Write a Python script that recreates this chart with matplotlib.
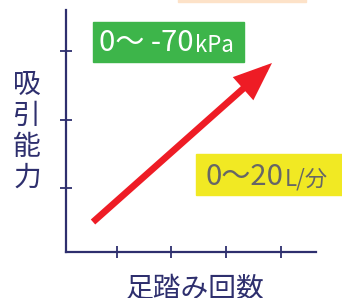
import matplotlib.pyplot as plt
from matplotlib.patches import FancyArrowPatch, Rectangle

plt.rcParams['font.family'] = ['Noto Sans CJK JP', 'DejaVu Sans']

# axis ticks (axis units: pixels of the original drawing)
x_ticks = [51, 105, 160, 215]
y_ticks = [64, 132, 201]
x_max, y_max = 250, 242

# arrow from low to high
arrow_start = (27, 30)
arrow_end = (206, 189)

navy = '#2e2f6e'

fig = plt.figure(figsize=(3.42, 2.98), dpi=100)
ax = fig.add_axes([66 / 342, (298 - 252) / 298, 250 / 342, 242 / 298])
ax.set_zorder(5)
ax.set_xlim(0, x_max)
ax.set_ylim(0, y_max)
ax.patch.set_alpha(0)
for s in ['top', 'right']:
    ax.spines[s].set_visible(False)
for s in ['left', 'bottom']:
    ax.spines[s].set_color(navy)
    ax.spines[s].set_linewidth(1.6)
ax.set_xticks(x_ticks)
ax.set_yticks(y_ticks)
ax.tick_params(direction='inout', length=9, width=1.3, color=navy,
               labelbottom=False, labelleft=False)

arr = FancyArrowPatch(arrow_start, arrow_end,
                      arrowstyle='-|>,head_length=0.95,head_width=0.38',
                      mutation_scale=20, lw=4.8, color='#ee1c25',
                      shrinkA=0, shrinkB=0, joinstyle='miter', capstyle='butt')
ax.add_patch(arr)

# peach box cut off at top
fig.patches.append(Rectangle((178 / 342, 1 - 2 / 298), 128 / 342, 4 / 298,
                             transform=fig.transFigure, color='#fde2c8'))
# green box
fig.patches.append(Rectangle((93 / 342, 1 - 62 / 298), 151 / 342, 40 / 298,
                             transform=fig.transFigure, color='#3db54a'))
t1 = fig.text(99 / 342, 1 - 51 / 298, '0～ -70', color='white', fontsize=21,
              va='baseline', ha='left', zorder=6)
ax.annotate('kPa', xy=(1, 0), xycoords=t1, xytext=(1, 1),
            textcoords='offset points', color='white', fontsize=16,
            va='bottom', ha='left', annotation_clip=False)
# yellow box
fig.patches.append(Rectangle((196 / 342, 1 - 195 / 298), 146 / 342, 41 / 298,
                             transform=fig.transFigure, color='#f1e923'))
t2 = fig.text(205 / 342, 1 - 185 / 298, '0～20', color='#666666', fontsize=21,
              va='baseline', ha='left', zorder=6)
ax.annotate('L/分', xy=(1, 0), xycoords=t2, xytext=(1, 1),
            textcoords='offset points', color='#666666', fontsize=16,
            va='bottom', ha='left', annotation_clip=False)

# axis labels
for i, ch in enumerate('吸引能力'):
    fig.text(27 / 342, 1 - (85 + 31 * i) / 298, ch, color=navy, fontsize=20,
             ha='center', va='center')
fig.text(195 / 342, 1 - 289 / 298, '足踏み回数', color=navy, fontsize=20,
         ha='center', va='center')

fig.savefig('out.png', dpi=100)
